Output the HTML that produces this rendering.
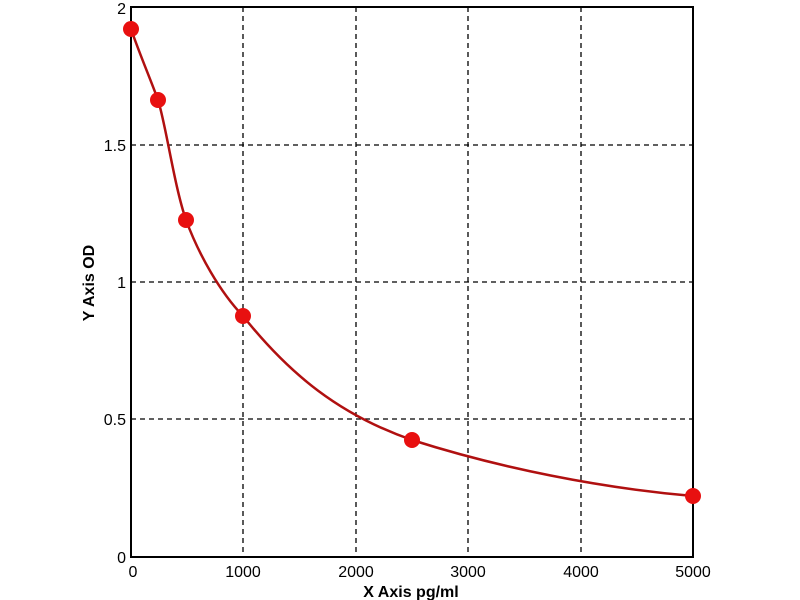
<!DOCTYPE html>
<html><head><meta charset="utf-8"><style>body{margin:0;background:#fff}svg{display:block}</style></head><body>
<svg width="800" height="600" xmlns="http://www.w3.org/2000/svg" font-family="Liberation Sans, sans-serif">
<rect width="800" height="600" fill="#fff"/>
<g stroke="#000" stroke-width="1.3" stroke-dasharray="5,4">
<line x1="243" y1="7" x2="243" y2="557"/>
<line x1="356" y1="7" x2="356" y2="557"/>
<line x1="468" y1="7" x2="468" y2="557"/>
<line x1="581" y1="7" x2="581" y2="557"/>
<line x1="131" y1="145" x2="693" y2="145"/>
<line x1="131" y1="282" x2="693" y2="282"/>
<line x1="131" y1="419" x2="693" y2="419"/>
</g>
<rect x="131" y="7" width="562" height="550" fill="none" stroke="#000" stroke-width="2"/>
<g font-size="16" fill="#000" text-anchor="end">
<text x="126" y="14">2</text>
<text x="126" y="151">1.5</text>
<text x="126" y="288">1</text>
<text x="126" y="425">0.5</text>
<text x="126" y="563">0</text>
</g>
<g font-size="16" fill="#000" text-anchor="middle">
<text x="133" y="577">0</text>
<text x="243" y="577">1000</text>
<text x="356" y="577">2000</text>
<text x="468" y="577">3000</text>
<text x="581" y="577">4000</text>
<text x="693" y="577">5000</text>
</g>
<text x="411" y="597" font-size="16" font-weight="bold" text-anchor="middle">X Axis pg/ml</text>
<text transform="translate(94,283) rotate(-90)" font-size="16" font-weight="bold" text-anchor="middle">Y Axis OD</text>
<path d="M131,29 C140,55 150,78 158,100 C166,125 174,185 186,220 C199,255 220,292 243,316 C290,375 340,415 412,440 C500,468 600,488 693,496" fill="none" stroke="#b01010" stroke-width="2.5"/>
<g fill="#e81010">
<circle cx="131" cy="29" r="8"/>
<circle cx="158" cy="100" r="8"/>
<circle cx="186" cy="220" r="8"/>
<circle cx="243" cy="316" r="8"/>
<circle cx="412" cy="440" r="8"/>
<circle cx="693" cy="496" r="8"/>
</g>
</svg>
</body></html>
